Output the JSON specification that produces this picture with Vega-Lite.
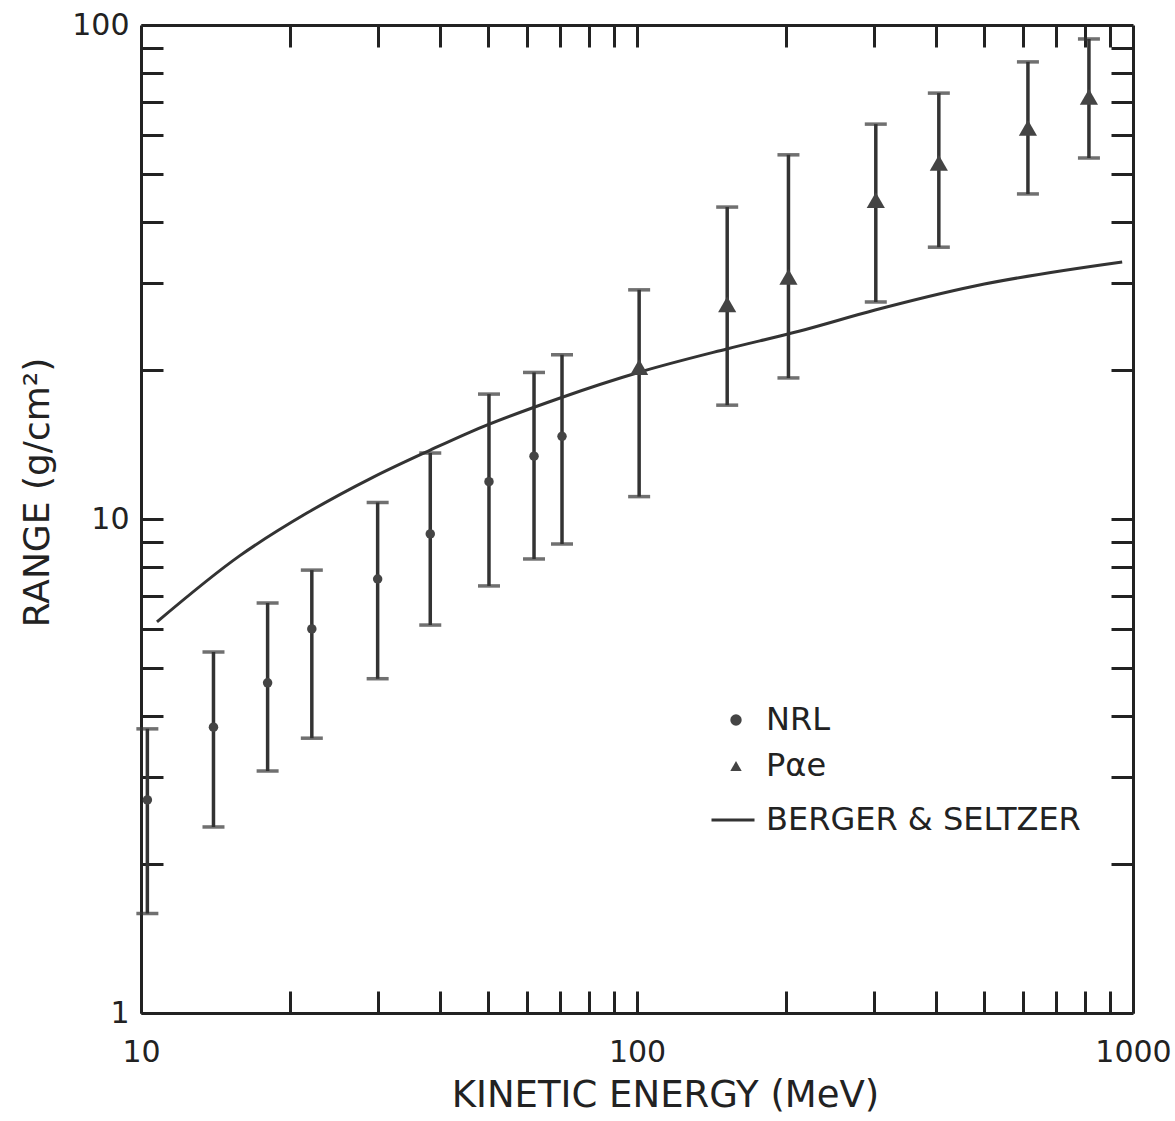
{
  "$schema": "https://vega.github.io/schema/vega-lite/v6.json",
  "autosize": {"type": "none"},
  "width": 992,
  "height": 988,
  "padding": {"left": 141, "top": 25, "right": 42, "bottom": 108},
  "background": "white",
  "config": {
    "view": {"stroke": null},
    "font": "DejaVu Sans",
    "axis": {"grid": false, "domainColor": "#222", "domainWidth": 3, "tickColor": "#222", "tickWidth": 3, "labelColor": "#222", "titleColor": "#222", "labelFont": "DejaVu Sans", "titleFont": "DejaVu Sans", "titleFontWeight": "normal"},
    "legend": {"labelLimit": 600, "labelFontSize": 32, "labelColor": "#222", "labelFont": "DejaVu Sans"}
  },
  "datasets": {
    "berger": [
      {"src": "BERGER & SELTZER", "E": 10.77, "R": 6.19},
      {"src": "BERGER & SELTZER", "E": 15.8, "R": 8.42},
      {"src": "BERGER & SELTZER", "E": 21.6, "R": 10.28},
      {"src": "BERGER & SELTZER", "E": 29.4, "R": 12.16},
      {"src": "BERGER & SELTZER", "E": 38.3, "R": 13.79},
      {"src": "BERGER & SELTZER", "E": 46.1, "R": 15.0},
      {"src": "BERGER & SELTZER", "E": 70.0, "R": 17.58},
      {"src": "BERGER & SELTZER", "E": 101.4, "R": 19.84},
      {"src": "BERGER & SELTZER", "E": 151.7, "R": 22.09},
      {"src": "BERGER & SELTZER", "E": 213, "R": 24.02},
      {"src": "BERGER & SELTZER", "E": 302, "R": 26.49},
      {"src": "BERGER & SELTZER", "E": 480, "R": 29.63},
      {"src": "BERGER & SELTZER", "E": 951, "R": 33.13}
    ],
    "points": [
      {"series": "NRL", "E": 10.3, "R": 2.70, "lo": 1.59, "hi": 3.76},
      {"series": "NRL", "E": 14.0, "R": 3.79, "lo": 2.38, "hi": 5.38},
      {"series": "NRL", "E": 18.0, "R": 4.66, "lo": 3.09, "hi": 6.76},
      {"series": "NRL", "E": 22.1, "R": 5.99, "lo": 3.60, "hi": 7.88},
      {"series": "NRL", "E": 30.0, "R": 7.56, "lo": 4.75, "hi": 10.8},
      {"series": "NRL", "E": 38.3, "R": 9.33, "lo": 6.10, "hi": 13.6},
      {"series": "NRL", "E": 50.3, "R": 11.9, "lo": 7.32, "hi": 17.9},
      {"series": "NRL", "E": 62.0, "R": 13.4, "lo": 8.30, "hi": 19.8},
      {"series": "NRL", "E": 70.6, "R": 14.7, "lo": 8.90, "hi": 21.5},
      {"series": "Pαe", "E": 101, "R": 20.3, "lo": 11.1, "hi": 29.1},
      {"series": "Pαe", "E": 152, "R": 27.2, "lo": 17.0, "hi": 42.8},
      {"series": "Pαe", "E": 202, "R": 30.9, "lo": 19.3, "hi": 54.6},
      {"series": "Pαe", "E": 303, "R": 44.2, "lo": 27.5, "hi": 63.0},
      {"series": "Pαe", "E": 406, "R": 52.6, "lo": 35.5, "hi": 72.8},
      {"series": "Pαe", "E": 614, "R": 61.9, "lo": 45.5, "hi": 84.2},
      {"series": "Pαe", "E": 815, "R": 71.5, "lo": 53.8, "hi": 93.7}
    ]
  },
  "resolve": {"axis": {"x": "independent", "y": "independent"}},
  "layer": [
    {
      "data": {"name": "berger"},
      "mark": {"type": "line", "strokeWidth": 3, "interpolate": "monotone"},
      "encoding": {
        "x": {"field": "E", "type": "quantitative",
          "scale": {"type": "log", "domain": [10, 1000], "nice": false},
          "axis": {"orient": "bottom", "values": [10,20,30,40,50,60,70,80,90,100,200,300,400,500,600,700,800,900,1000],
            "tickSize": -22, "labelOverlap": false, "labelFlush": false, "labelFontSize": 30, "labelPadding": 46,
            "labelExpr": "(datum.value == 10 || datum.value == 100 || datum.value == 1000) ? format(datum.value, 'd') : ''",
            "title": "KINETIC ENERGY (MeV)", "titleFontSize": 37, "titleX": 524, "titleY": 82, "titleAnchor": "middle", "titleAlign": "center", "titleBaseline": "middle"}},
        "y": {"field": "R", "type": "quantitative",
          "scale": {"type": "log", "domain": [1, 100], "nice": false},
          "axis": {"orient": "left", "values": [1,2,3,4,5,6,7,8,9,10,20,30,40,50,60,70,80,90,100],
            "tickSize": -22, "labelOverlap": false, "labelFlush": false, "labelFontSize": 30, "labelPadding": 34,
            "labelExpr": "(datum.value == 1 || datum.value == 10 || datum.value == 100) ? format(datum.value, 'd') : ''",
            "title": "RANGE (g/cm²)", "titleFontSize": 36, "titleX": -104, "titleY": 467, "titleAngle": -90, "titleAlign": "center", "titleBaseline": "middle"}},
        "stroke": {"field": "src", "type": "nominal",
          "scale": {"domain": ["BERGER & SELTZER"], "range": ["#333"]},
          "legend": {"orient": "none", "legendX": 569, "legendY": 772, "title": null, "symbolType": "stroke", "symbolSize": 1849, "symbolStrokeWidth": 3, "labelOffset": 10}}
      }
    },
    {
      "data": {"name": "points"},
      "mark": {"type": "rule", "color": "#333", "strokeWidth": 3.5},
      "encoding": {
        "x": {"field": "E", "type": "quantitative",
          "axis": {"orient": "top", "values": [20,30,40,50,60,70,80,90,100,200,300,400,500,600,700,800,900],
            "tickSize": -22, "labels": false, "title": null}},
        "y": {"field": "lo", "type": "quantitative",
          "axis": {"orient": "right", "values": [2,3,4,5,6,7,8,9,10,20,30,40,50,60,70,80,90],
            "tickSize": -22, "labels": false, "title": null}},
        "y2": {"field": "hi"}
      }
    },
    {
      "data": {"name": "points"},
      "mark": {"type": "tick", "orient": "horizontal", "color": "#333", "size": 22, "thickness": 3.5},
      "encoding": {
        "x": {"field": "E", "type": "quantitative", "axis": null},
        "y": {"field": "lo", "type": "quantitative", "axis": null}
      }
    },
    {
      "data": {"name": "points"},
      "mark": {"type": "tick", "orient": "horizontal", "color": "#333", "size": 22, "thickness": 3.5},
      "encoding": {
        "x": {"field": "E", "type": "quantitative", "axis": null},
        "y": {"field": "hi", "type": "quantitative", "axis": null}
      }
    },
    {
      "data": {"name": "points"},
      "mark": {"type": "point", "filled": true, "color": "#444", "opacity": 1},
      "encoding": {
        "x": {"field": "E", "type": "quantitative", "axis": null},
        "y": {"field": "R", "type": "quantitative", "axis": null},
        "size": {"condition": {"test": "datum.series == 'Pαe'", "value": 330}, "value": 90},
        "shape": {"field": "series", "type": "nominal",
          "scale": {"domain": ["NRL", "Pαe"], "range": ["circle", "triangle-up"]},
          "legend": {"orient": "none", "legendX": 579, "legendY": 679, "title": null, "labelOffset": 14, "rowPadding": 14, "symbolSize": 130, "symbolFillColor": "#444"}}
      }
    }
  ]
}
